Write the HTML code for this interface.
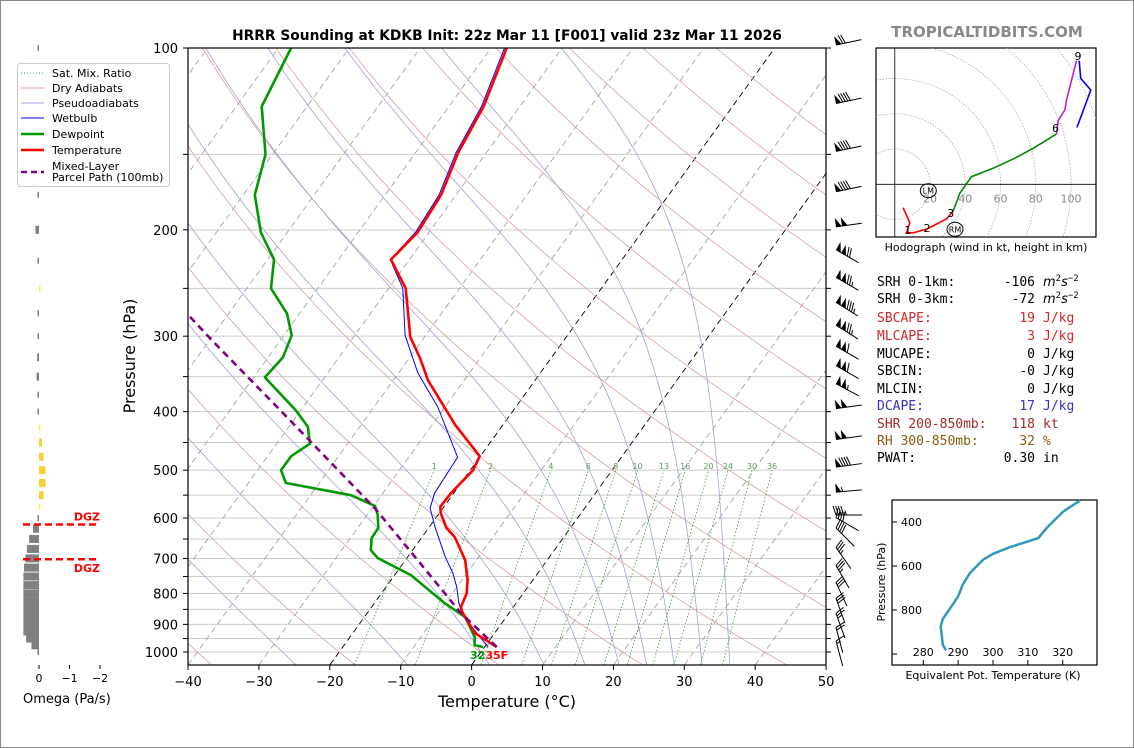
<!DOCTYPE html>
<html><head><meta charset="utf-8"><style>
html,body{margin:0;padding:0;background:#fff;}
svg{display:block;font-family:"DejaVu Sans","Liberation Sans",sans-serif;}
.mono{font-family:"DejaVu Sans Mono","Liberation Mono",monospace;font-size:13px;}
</style></head><body>
<svg id="fig" width="1134" height="748" viewBox="0 0 1134 748" xmlns="http://www.w3.org/2000/svg">
<rect x="0.5" y="0.5" width="1133" height="747" fill="#fff" stroke="#888"/>
<defs><clipPath id="clipMain"><rect x="188" y="48" width="638" height="617"/></clipPath>
<clipPath id="clipHodo"><rect x="876" y="48" width="220" height="189"/></clipPath></defs>
<text x="507" y="40" text-anchor="middle" font-size="13.8" font-weight="bold">HRRR Sounding at KDKB Init: 22z Mar 11 [F001] valid 23z Mar 11 2026</text>
<text x="987" y="37" text-anchor="middle" font-size="15" font-weight="bold" fill="#888">TROPICALTIDBITS.COM</text>
<g id="bg" clip-path="url(#clipMain)"></g>
<g id="prof" clip-path="url(#clipMain)"></g>
<g id="axes"></g>
<g id="barbs"></g>
<g id="omega"></g>
<g id="hodo"></g>
<g id="stats"></g>
<g id="thetae"></g>
<g id="legend"></g>
</svg>
<script>
// ---------- DATA ----------
const tempP=[981,930,859,842,799,760,704,645,623,589,575,546,500,474,463,421,355,326,301,250,224,202,175,149,125,100];
const tempT=[1.7,-2.8,-6.7,-7.4,-8.0,-9.2,-11.6,-15.4,-17.5,-19.8,-20.5,-20.4,-19.6,-20.1,-21.4,-26.7,-35.1,-38.5,-42.0,-47.6,-52.6,-51.6,-52.1,-54.0,-55.1,-57.8];
const dewP=[981,974,945,875,830,746,699,678,648,623,593,573,550,525,500,474,452,424,398,351,325,299,275,250,224,202,175,150,125,100];
const dewT=[-0.2,-1.6,-2.4,-5.8,-10.1,-17.7,-24.1,-25.9,-27.0,-27.1,-28.5,-29.8,-34.3,-44.7,-46.7,-46.7,-45.3,-47.3,-50.7,-58.4,-57.9,-58.9,-61.8,-66.6,-69.1,-73.7,-78.4,-81.0,-86.4,-88.2];
const wetP=[981,875,830,781,740,696,621,578,546,494,476,393,345,299,250,224,202,175,149,125,100];
const wetT=[0.5,-6.0,-8.1,-10.0,-12.0,-14.7,-19.2,-21.8,-22.7,-23.0,-23.1,-31.0,-37.3,-42.9,-48.0,-52.7,-51.9,-52.4,-54.3,-55.4,-58.1];
const parcelP=[981,862,723,578,412,304,276];
const parcelT=[1.7,-6.8,-16.8,-29.6,-50.7,-69.8,-75.7];
const xTicks=[-40,-30,-20,-10,0,10,20,30,40,50];
const pLabels=[100,200,300,400,500,600,700,800,900,1000];
const pGrid=[100,150,200,250,300,350,400,450,500,550,600,650,700,750,800,850,900,950,1000];
const mixW=[1,2,4,6,8,10,13,16,20,24,30,36];
const dryT0=[-40,-20,0,20,40,60,80,100,120,140,160,180,200];
const moistT0=[-44,-28,-12,0,8,14,19,23,27,31,35];
const barbP=[100,125,150,175,200,225,250,275,300,325,350,375,400,450,500,550,600,625,650,700,750,800,850,900,950,1000];
const barbSpd=[70,90,90,90,100,120,125,135,125,110,110,105,100,100,90,55,45,40,40,35,35,30,30,25,20,15];
const barbAng=[-12,-12,-12,-12,-8,30,30,32,32,30,30,28,-8,-8,-8,-5,0,30,45,55,60,65,70,70,75,75];
const omegaP=[1000,975,950,925,900,875,850,825,800,775,750,725,700,675,650,625,600,575,550,525,500,475,450,425,400,375,350,325,300,275,250,225,200,175,150,125,100];
const omegaV=[0,0.25,0.43,0.52,0.52,0.52,0.52,0.52,0.52,0.52,0.52,0.5,0.45,0.4,0.33,0.2,0,-0.05,-0.15,-0.22,-0.22,-0.15,-0.1,-0.03,0.05,0.05,0.08,0.06,0.05,0.05,-0.03,0.05,0.12,0.05,0.02,0.04,0.03];
const hodoU=[4.7,8.5,6.6,10.4,18,29.3,33,36.9,43.5,55.8,68.1,78.5,91.7,92.7,96.5,97.4,103.1,104.6,105.5,111.2,103.4];
const hodoV=[-13.3,-21.8,-27.5,-27.5,-25.5,-19.7,-15.5,-5.1,4.3,9.1,14.8,20.4,28.5,36.1,42.2,47.8,70.1,70.1,60.1,53.5,32.3];
const hodoRings=[20,40,60,80,100,120];
const hodoLabels=[20,40,60,80,100];
const thetaK=[286.5,285.6,285.0,285.6,288.1,290.0,291.3,293.4,297.2,300.1,304.9,308.7,313.0,315.4,320.2,325.0];
const thetaP=[983,958,874,841,783,738,685,632,571,544,514,495,473,427,352,302];
const thetaXT=[280,290,300,310,320];
const thetaYT=[400,600,800,1000];

// ---------- HELPERS ----------
const NS="http://www.w3.org/2000/svg";
function mk(tag,attrs,parent){const e=document.createElementNS(NS,tag);for(const k in attrs)e.setAttribute(k,attrs[k]);parent.appendChild(e);return e;}
function py(p){return 48+604*Math.log10(p/100);}
function tx(T,p){return 188+(T+40)*7.09+(665-py(p))*0.721;}
function pathOf(Ps,Ts){return Ps.map((p,i)=>(i?'L':'M')+tx(Ts[i],p).toFixed(1)+','+py(p).toFixed(1)).join('');}
const bg=document.getElementById('bg'),prof=document.getElementById('prof'),axes=document.getElementById('axes');

for(const p of pGrid){
 const l=mk('line',{x1:188,x2:826,y1:py(p),y2:py(p),stroke:'#cccccc','stroke-width':1},bg);
 
 
}
for(let T=-120;T<=50;T+=10){
 const black=(T===0||T===-20);
 const l=mk('line',{x1:tx(T,1050),y1:py(1050),x2:tx(T,100),y2:py(100),stroke:black?'#000':'#999','stroke-width':black?0.9:0.8,'stroke-dasharray':'6,4'},bg);
 
 
}
for(const t0 of dryT0){
 const th=t0+273.15;let d='';
 for(let p=1050;p>=100;p-=10){const T=th*Math.pow(p/1000,0.286)-273.15;d+=(d?'L':'M')+tx(T,p).toFixed(1)+','+py(p).toFixed(1);}
 const l=mk('path',{d:d,fill:'none',stroke:'#d9a0a0','stroke-width':0.8},bg);
 
 
}
function es(T){return 6.112*Math.exp(17.67*T/(T+243.5));}
function dTdp(T,p){const Tk=T+273.15,rs=0.622*es(T)/(p-es(T)),Rd=287,Cp=1005,Lv=2.5e6;
 return (Rd*Tk+Lv*rs)/(Cp+Lv*Lv*rs*0.622/(Rd*Tk*Tk))/p;}
for(const t0 of moistT0){
 let pts=[];let T=t0;
 for(let p=1000;p>=100;p-=5){pts.push([p,T]);T-=dTdp(T,p)*5;}
 let T2=t0;let low=[];for(let p=1000;p<1050;p+=5){T2+=dTdp(T2,p)*5;low.push([p+5,T2]);}
 pts=low.reverse().concat(pts);
 const d=pts.map((q,i)=>(i?'L':'M')+tx(q[1],q[0]).toFixed(1)+','+py(q[0]).toFixed(1)).join('');
 const l=mk('path',{d:d,fill:'none',stroke:'#a0a0dd','stroke-width':0.8},bg);
 
 
}
function tdw(w,p){const e=w*p/(622+w);const a=Math.log(e/6.112);return 243.5*a/(17.67-a);}
for(const w of mixW){
 const d='M'+tx(tdw(w,1050),1050).toFixed(1)+','+py(1050)+'L'+tx(tdw(w,500),500).toFixed(1)+','+py(500).toFixed(1);
 const l=mk('path',{d:d,fill:'none',stroke:'#3c9a3c','stroke-width':0.8,'stroke-dasharray':'1.5,2'},bg);
 
 
 const t=mk('text',{x:tx(tdw(w,500),500),y:py(500)-1,'font-size':8,fill:'#5a9a5a','text-anchor':'middle'},bg);
 t.textContent=w;
 
 
}
function line(Ps,Ts,color,w,name,dash){
 const a={d:pathOf(Ps,Ts),fill:'none',stroke:color,'stroke-width':w,'stroke-linejoin':'round'};if(dash)a['stroke-dasharray']=dash;
 const l=mk('path',a,prof);
 
 
}
line(wetP,wetT,'#0000ff',1,'wetbulb-line');
line(dewP,dewT,'#009900',2.6,'dewpoint-line');
line(tempP,tempT,'#ff0000',2.6,'temperature-line');
line(parcelP,parcelT,'#800080',2.6,'parcel-path-line','7,5');
{const t=mk('text',{x:470,y:659,'font-size':11,'font-weight':'bold'},axes);
 t.innerHTML='<tspan fill="#009900">'+Math.round(dewT[0]*9/5+32)+'</tspan><tspan fill="#ff0000">'+Math.round(tempT[0]*9/5+32)+'F</tspan>';
 
 }
{const r=mk('rect',{x:188,y:48,width:638,height:617,fill:'none',stroke:'#000','stroke-width':1.2},axes);
 
 }
for(const T of xTicks){
 const x=188+(T+40)*7.09;
 const k=mk('line',{x1:x,x2:x,y1:665,y2:670,stroke:'#000'},axes);
 
 
 const t=mk('text',{x:x,y:686,'font-size':13,'text-anchor':'middle'},axes);
 t.textContent=T<0?'\u2212'+(-T):T;
 
 
}
for(const p of pGrid){
 const k=mk('line',{x1:183,x2:188,y1:py(p),y2:py(p),stroke:'#000'},axes);
 
 
 const k2=mk('line',{x1:826,x2:831,y1:py(p),y2:py(p),stroke:'#000'},axes);
 
 
}
for(const p of pLabels){
 const t=mk('text',{x:178,y:py(p)+5,'font-size':13,'text-anchor':'end'},axes);
 t.textContent=p;
 
 
}
{const t=mk('text',{x:507,y:707,'font-size':16,'text-anchor':'middle'},axes);t.textContent='Temperature (\u00B0C)';
 
 
 const t2=mk('text',{x:135,y:356,'font-size':16,'text-anchor':'middle',transform:'rotate(-90 135 356)'},axes);t2.textContent='Pressure (hPa)';
 
 }

const barbs=document.getElementById('barbs');
barbP.forEach((p,i)=>{
 const a=barbAng[i]*Math.PI/180,dx=Math.cos(a),dy=Math.sin(a),nx=Math.sin(a),ny=-Math.cos(a);
 const Fx=836,Fy=py(p)-3+(barbAng[i]>20?-8:0),L=26;
 const g=mk('g',{},barbs);
 
 
 mk('line',{x1:Fx,y1:Fy,x2:Fx+dx*L,y2:Fy+dy*L,stroke:'#000','stroke-width':1},g);
 let s=barbSpd[i],pos=0;
 while(s>=50){const ax=Fx+dx*pos,ay=Fy+dy*pos,bx=Fx+dx*(pos+5.5),by=Fy+dy*(pos+5.5);
  mk('polygon',{points:`${ax},${ay} ${bx},${by} ${ax+nx*9},${ay+ny*9}`,fill:'#000'},g);pos+=6;s-=50;}
 if(pos)pos+=1;
 while(s>=10){const ax=Fx+dx*pos,ay=Fy+dy*pos;mk('line',{x1:ax,y1:ay,x2:ax-dx*3+nx*9,y2:ay-dy*3+ny*9,stroke:'#000','stroke-width':1},g);pos+=2.6;s-=10;}
 if(s>=5){const ax=Fx+dx*pos,ay=Fy+dy*pos;mk('line',{x1:ax,y1:ay,x2:ax-dx*1.5+nx*4.5,y2:ay-dy*1.5+ny*4.5,stroke:'#000','stroke-width':1},g);}
});

const om=document.getElementById('omega');
omegaP.forEach((p,i)=>{
 const v=omegaV[i];const w=Math.max(Math.abs(v)*30,1.5);const y=py(p);
 const h=Math.abs(v)<0.06?6:8;
 const x=v>=0?39-w:39;
 const r=mk('rect',{x:x,y:y-h/2,width:w,height:h,fill:v>=0?'#808080':(Math.abs(v)<0.06?'#ffee33':'#f9d030')},om);
 
 
});
[[py(615),'DGZ',py(615)-4],[py(702),'DGZ',py(702)+13]].forEach(d=>{
 const l=mk('line',{x1:23,x2:100,y1:d[0],y2:d[0],stroke:'#ff0000','stroke-width':2.5,'stroke-dasharray':'7,4'},om);
 
 
 const t=mk('text',{x:100,y:d[2],'font-size':11,'font-weight':'bold',fill:'#ff0000','text-anchor':'end'},om);t.textContent=d[1];
 
 
});
[[0,'0'],[-1,'\u22121'],[-2,'\u22122']].forEach(d=>{
 const x=39-d[0]*30.5;
 const k=mk('line',{x1:x,x2:x,y1:665,y2:669,stroke:'#000'},om);
 
 
 const t=mk('text',{x:x,y:682,'font-size':11,'text-anchor':'middle'},om);t.textContent=d[1];
 
 
});
{const t=mk('text',{x:23,y:703,'font-size':13},om);t.textContent='Omega (Pa/s)';
 
 }

const lg=document.getElementById('legend');
{const r=mk('rect',{x:17.5,y:63.5,width:152,height:123,rx:3,fill:'#fff',stroke:'#ccc'},lg);
 
 }
const legItems=[['Sat. Mix. Ratio','#3c9a3c',1,'1,2',73],['Dry Adiabats','#d9a0a0',1,'',88],['Pseudoadiabats','#a0a0dd',1,'',103],['Wetbulb','#0000ff',1,'',118],['Dewpoint','#009900',2.5,'',134],['Temperature','#ff0000',2.5,'',150],['Mixed-Layer','#800080',2.5,'6,4',166]];
legItems.forEach(it=>{
 const g=mk('g',{},lg);
 
 
 const ly=it[0]==='Mixed-Layer'?172:it[4];
 const a={x1:21,x2:44,y1:ly,y2:ly,stroke:it[1],'stroke-width':it[2]};if(it[3])a['stroke-dasharray']=it[3];
 mk('line',a,g);
 const t=mk('text',{x:52,y:it[4]+4,'font-size':11},g);t.textContent=it[0];
});
{const t=mk('text',{x:52,y:181,'font-size':11},lg);t.textContent='Parcel Path (100mb)';
 
 }

const hd=document.getElementById('hodo');
const HX=894.8,HY=184.3,HS=1.7625;
{const r=mk('rect',{x:876,y:48,width:220,height:189,fill:'#fff',stroke:'#000','stroke-width':1.2},hd);
 
 }
const hc=mk('g',{'clip-path':'url(#clipHodo)'},hd);


hodoRings.forEach(r=>{const c=mk('circle',{cx:HX,cy:HY,r:r*HS,fill:'none',stroke:'#aaa','stroke-width':0.8,'stroke-dasharray':'1.5,1.5'},hc);
 
 });
{const a=mk('line',{x1:HX,x2:HX,y1:48,y2:237,stroke:'#000','stroke-width':0.8},hc);
 
 
 const b=mk('line',{x1:876,x2:1096,y1:HY,y2:HY,stroke:'#000','stroke-width':0.8},hc);
 
 }
hodoLabels.forEach(v=>{const t=mk('text',{x:HX+v*HS,y:HY+18,'font-size':11,fill:'#888','text-anchor':'middle'},hc);t.textContent=v;
 
 });
const hsegs=[[0,6,'#ff0000','hodo-0-3km'],[6,12,'#008800','hodo-3-6km'],[12,16,'#bb22cc','hodo-6-9km'],[17,20,'#0000ff','hodo-9km-plus']];
hsegs.forEach(s=>{let d='';for(let i=s[0];i<=s[1];i++)d+=(i>s[0]?'L':'M')+(HX+hodoU[i]*HS).toFixed(1)+','+(HY-hodoV[i]*HS).toFixed(1);
 const l=mk('path',{d:d,fill:'none',stroke:s[2],'stroke-width':1.6},hc);
 
 });
[['1',907.7,234],['2',927,232],['3',950.7,217],['6',1055.5,132],['9',1078,60]].forEach(d=>{
 const t=mk('text',{x:d[1],y:d[2],'font-size':11,'text-anchor':'middle'},hc);t.textContent=d[0];
 
 });
[['LM',928.3,190.7],['RM',955,229.3]].forEach(d=>{
 const e=mk('ellipse',{cx:d[1],cy:d[2],rx:8,ry:7,fill:'none',stroke:'#000','stroke-width':1},hc);
 
 
 const t=mk('text',{x:d[1],y:d[2]+3,'font-size':8,'text-anchor':'middle'},hc);t.textContent=d[0];
 
 });
{const t=mk('text',{x:986,y:251,'font-size':11,'text-anchor':'middle'},hd);t.textContent='Hodograph (wind in kt, height in km)';
 
 }

const st=document.getElementById('stats');
const rows=[['SRH 0-1km:','-106','m2','#000',286],['SRH 0-3km:','-72','m2','#000',303],['SBCAPE:','19','J/kg','#d62728',322],['MLCAPE:','3','J/kg','#d62728',340],['MUCAPE:','0','J/kg','#000',358],['SBCIN:','-0','J/kg','#000',375],['MLCIN:','0','J/kg','#000',393],['DCAPE:','17','J/kg','#3333cc',410],['SHR 200-850mb:','118','kt','#a52a2a',428],['RH 300-850mb:','32','%','#8b5a14',445],['PWAT:','0.30','in','#000',462]];
rows.forEach(r=>{
 const g=mk('g',{fill:r[3]},st);
 
 
 const a=mk('text',{x:877,y:r[4],class:'mono'},g);a.textContent=r[0];
 const b=mk('text',{x:1035,y:r[4],class:'mono','text-anchor':'end'},g);b.textContent=r[1];
 const c=mk('text',{x:1043,y:r[4],class:'mono'},g);
 if(r[2]==='m2'){c.innerHTML='<tspan font-style="italic" font-family="DejaVu Sans">m</tspan><tspan font-size="9" dy="-5">2</tspan><tspan font-style="italic" font-family="DejaVu Sans" dy="5">s</tspan><tspan font-size="9" dy="-5">\u22122</tspan>';}
 else c.textContent=r[2];
});

const te=document.getElementById('thetae');
function ex(K){return 923.3+(K-280)*3.485;}
function ey(p){return 522+(p-400)*0.22;}
{const r=mk('rect',{x:892,y:500,width:205,height:165,fill:'#fff',stroke:'#000','stroke-width':1.2},te);
 
 }
thetaYT.forEach(p=>{
 const k=mk('line',{x1:892,x2:897,y1:ey(p),y2:ey(p),stroke:'#000'},te);
 
 
 if(p<1000){const t=mk('text',{x:922,y:ey(p)+4,'font-size':11,'text-anchor':'end'},te);t.textContent=p;
 
 }
});
thetaXT.forEach(K=>{
 const k=mk('line',{x1:ex(K),x2:ex(K),y1:660,y2:665,stroke:'#000'},te);
 
 
 const t=mk('text',{x:ex(K),y:656,'font-size':11,'text-anchor':'middle'},te);t.textContent=K;
 
 
});
{let d='';thetaK.forEach((K,i)=>{d+=(i?'L':'M')+ex(K).toFixed(1)+','+ey(thetaP[i]).toFixed(1);});
 const l=mk('path',{d:d,fill:'none',stroke:'#3399bb','stroke-width':2.5,'stroke-linejoin':'round'},te);
 
 
 const t=mk('text',{x:993,y:679,'font-size':11,'text-anchor':'middle'},te);t.textContent='Equivalent Pot. Temperature (K)';
 
 
 const t2=mk('text',{x:885,y:582,'font-size':11,'text-anchor':'middle',transform:'rotate(-90 885 582)'},te);t2.textContent='Pressure (hPa)';
 
 }
</script>
</body></html>
